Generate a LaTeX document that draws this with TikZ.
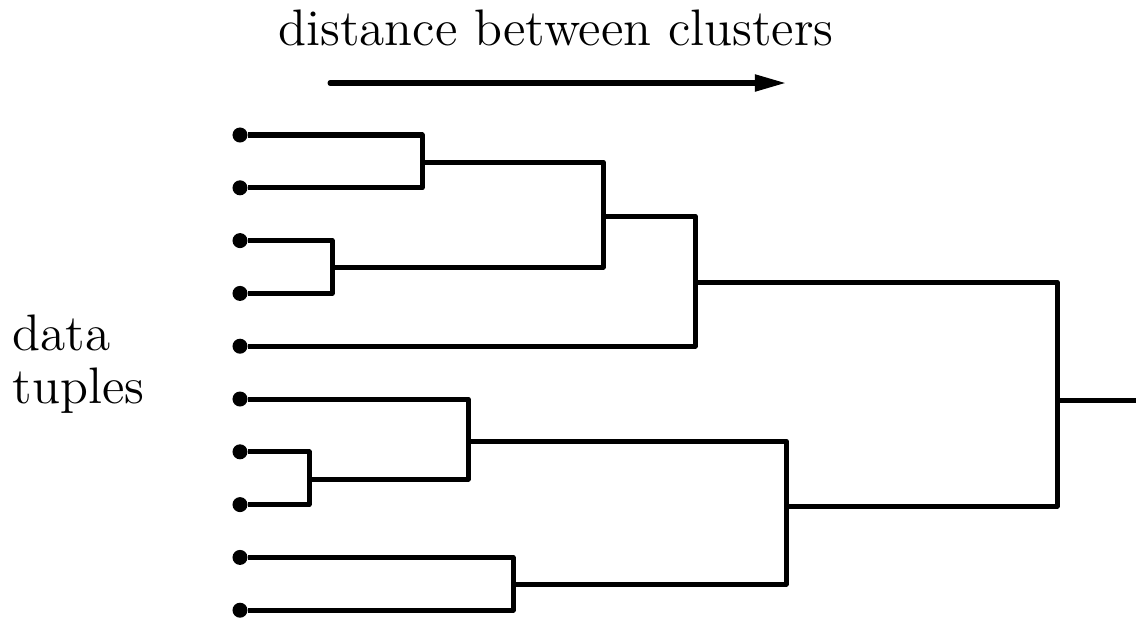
\documentclass[tikz,border=0pt]{standalone}
\usetikzlibrary{arrows.meta,positioning}

\begin{document}
\begin{tikzpicture}[x=0.01cm,y=-0.01cm,
    leaf_node/.style={circle,fill,inner sep=0pt,minimum size=0.15cm},
    link/.style={line width=0.05cm,line join=round},
    label_text/.style={inner sep=0pt,font=\fontsize{14.6}{17}\selectfont}]
  \useasboundingbox (0,0) rectangle (1136,618);
  % data tuples
  \foreach \s in {1,...,10}
  {
    \node[leaf_node] (N\s) at (240,{135+52.8*(\s-1)}) {};
  }
  % merge points
  \coordinate (M1) at (422,162);
  \coordinate (M2) at (332,267);
  \coordinate (M3) at (603,216);
  \coordinate (M4) at (695,282);
  \coordinate (M5) at (309,479);
  \coordinate (M6) at (468,441);
  \coordinate (M7) at (513,584);
  \coordinate (M8) at (786,506);
  \coordinate (M9) at (1057,400);
  \coordinate (R) at (1140,400);
  \foreach \a/\b in {N1/M1,N2/M1,N3/M2,N4/M2,M1/M3,M2/M3,M3/M4,N5/M4,
                     N7/M5,N8/M5,N6/M6,M5/M6,N9/M7,N10/M7,M6/M8,M7/M8,
                     M4/M9,M8/M9,M9/R}
  {
    \draw[link] (\a) -| (\b);
  }
  % distance axis
  \coordinate (arrow_start) at (330,83);
  \coordinate (arrow_end) at (786,83);
  \draw[link,line cap=round,-{Triangle[length=0.31cm,width=0.16cm]}] (arrow_start) -- (arrow_end);
  \node[label_text,anchor=base] (distance) at (556,45) {distance between clusters};
  \node[label_text,anchor=base west] (data) at (12,350) {data};
  \node[label_text,anchor=base west] (tuples) at (12,403) {tuples};
\end{tikzpicture}
\end{document}
